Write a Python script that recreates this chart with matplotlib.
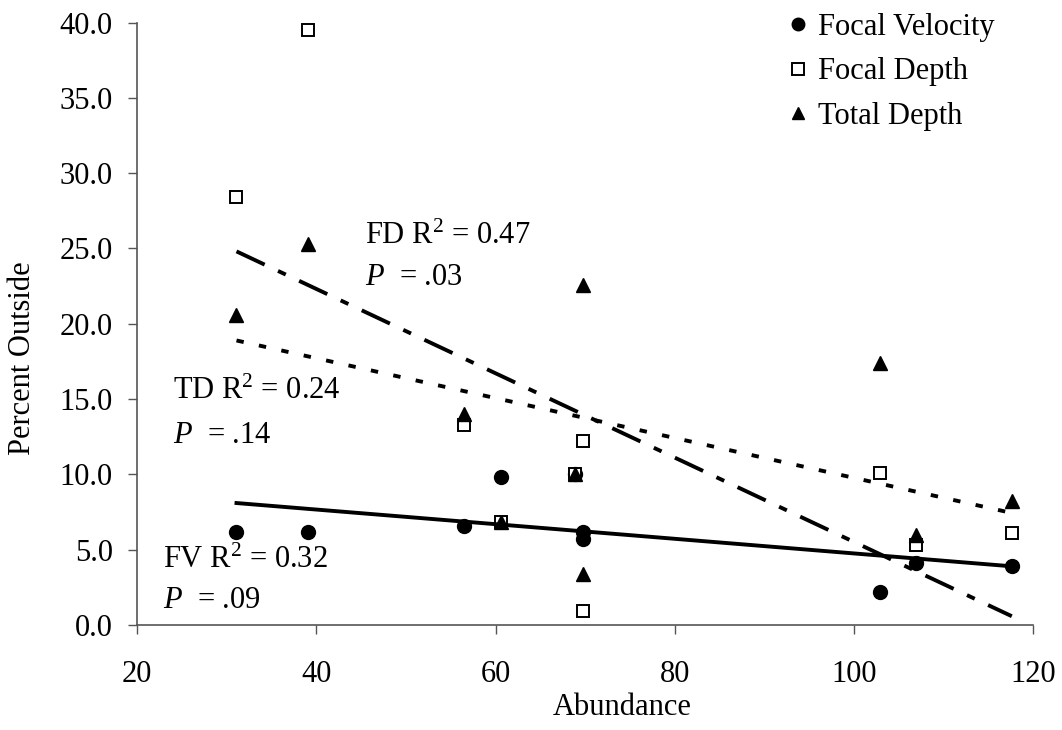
import numpy as np
import matplotlib
matplotlib.use("Agg")
import matplotlib.pyplot as plt

# values
abundance = [31.1, 39.1, 56.5, 60.6, 68.9, 69.8, 69.8, 102.9, 106.9, 117.6]
focal_velocity = [6.2, 6.2, 6.6, 9.8, 10.0, 6.2, 5.7, 2.2, 4.1, 3.9]
focal_depth = [28.4, 39.5, 13.3, 6.8, 10.0, 12.2, 0.9, 10.1, 5.3, 6.1]
total_depth = [20.6, 25.3, 14.0, 6.8, 10.0, 22.6, 3.4, 17.4, 6.0, 8.2]

x_ticks = [20, 40, 60, 80, 100, 120]
y_ticks = [0, 5, 10, 15, 20, 25, 30, 35, 40]

plt.rcParams['font.family'] = ['Liberation Serif', 'DejaVu Serif']
plt.rcParams['mathtext.fontset'] = 'custom'
plt.rcParams['mathtext.rm'] = 'Liberation Serif'
plt.rcParams['mathtext.it'] = 'Liberation Serif:italic'

FS = 22
LW = 2.8

fig = plt.figure(figsize=(10.62, 7.30), dpi=100)
ax = fig.add_axes([0.129, 0.144, 0.844, 0.825])

x = np.array(abundance)
ax.plot(x, focal_velocity, 'o', color='black', ms=10, zorder=2, clip_on=False, label='Focal Velocity')
ax.plot(x, focal_depth, 's', mfc='white', mec='black', mew=1.4, ms=8.8, zorder=2, clip_on=False, label='Focal Depth')
ax.plot(x, total_depth, '^', color='black', ms=9.5, zorder=2, clip_on=False, label='Total Depth')

# linear trend lines
xs = np.array([x.min(), x.max()])
fv_fit = np.polyfit(x, focal_velocity, 1)
fd_fit = np.polyfit(x, focal_depth, 1)
td_fit = np.polyfit(x, total_depth, 1)
ax.plot(xs, np.polyval(fv_fit, xs), color='black', lw=LW, zorder=3)
ax.plot(xs, np.polyval(fd_fit, xs), color='black', lw=LW, zorder=3,
        linestyle=(0, (8, 3.8, 2.2, 3.8)), dash_capstyle='butt')
ax.plot(xs, np.polyval(td_fit, xs), color='black', lw=LW, zorder=3,
        linestyle=(0, (1.9, 4.0)), dash_capstyle='butt')

ax.text(45.4, 25.8, 'FD R$^2$ = 0.47', fontsize=FS, va='center', ha='left')
ax.text(45.4, 23.1, '$P$  = .03', fontsize=FS, va='center', ha='left')
ax.text(24.0, 15.5, 'TD R$^2$ = 0.24', fontsize=FS, va='center', ha='left')
ax.text(24.0, 12.6, '$P$  = .14', fontsize=FS, va='center', ha='left')
ax.text(22.9, 4.3, 'FV R$^2$ = 0.32', fontsize=FS, va='center', ha='left')
ax.text(22.9, 1.6, '$P$  = .09', fontsize=FS, va='center', ha='left')

ax.set_xlim(20, 120)
ax.set_ylim(0, 40)
ax.set_xticks(x_ticks)
ax.set_yticks(y_ticks)
ax.set_yticklabels(['%.1f' % v for v in y_ticks])
ax.tick_params(labelsize=FS, direction='out', length=6.5, width=1, color='#555555')
ax.tick_params(axis='x', pad=19)
ax.tick_params(axis='y', pad=11)

for s in ['top', 'right']:
    ax.spines[s].set_visible(False)
for s in ['left', 'bottom']:
    ax.spines[s].set_color('#555555')
    ax.spines[s].set_linewidth(1.2)

ax.set_xlabel('Abundance', fontsize=FS, va='center')
ax.xaxis.set_label_coords(0.541, -0.138)
ax.set_ylabel('Percent Outside', fontsize=FS, va='center')
ax.yaxis.set_label_coords(-0.128, 0.442)

fig.legend(loc='upper left', bbox_to_anchor=(0.740, 0.982), frameon=False, fontsize=FS,
           numpoints=1, handlelength=0.8, handletextpad=0.25, labelspacing=0.5,
           borderpad=0, borderaxespad=0, markerscale=0.9)

fig.savefig('out.png', dpi=100)
